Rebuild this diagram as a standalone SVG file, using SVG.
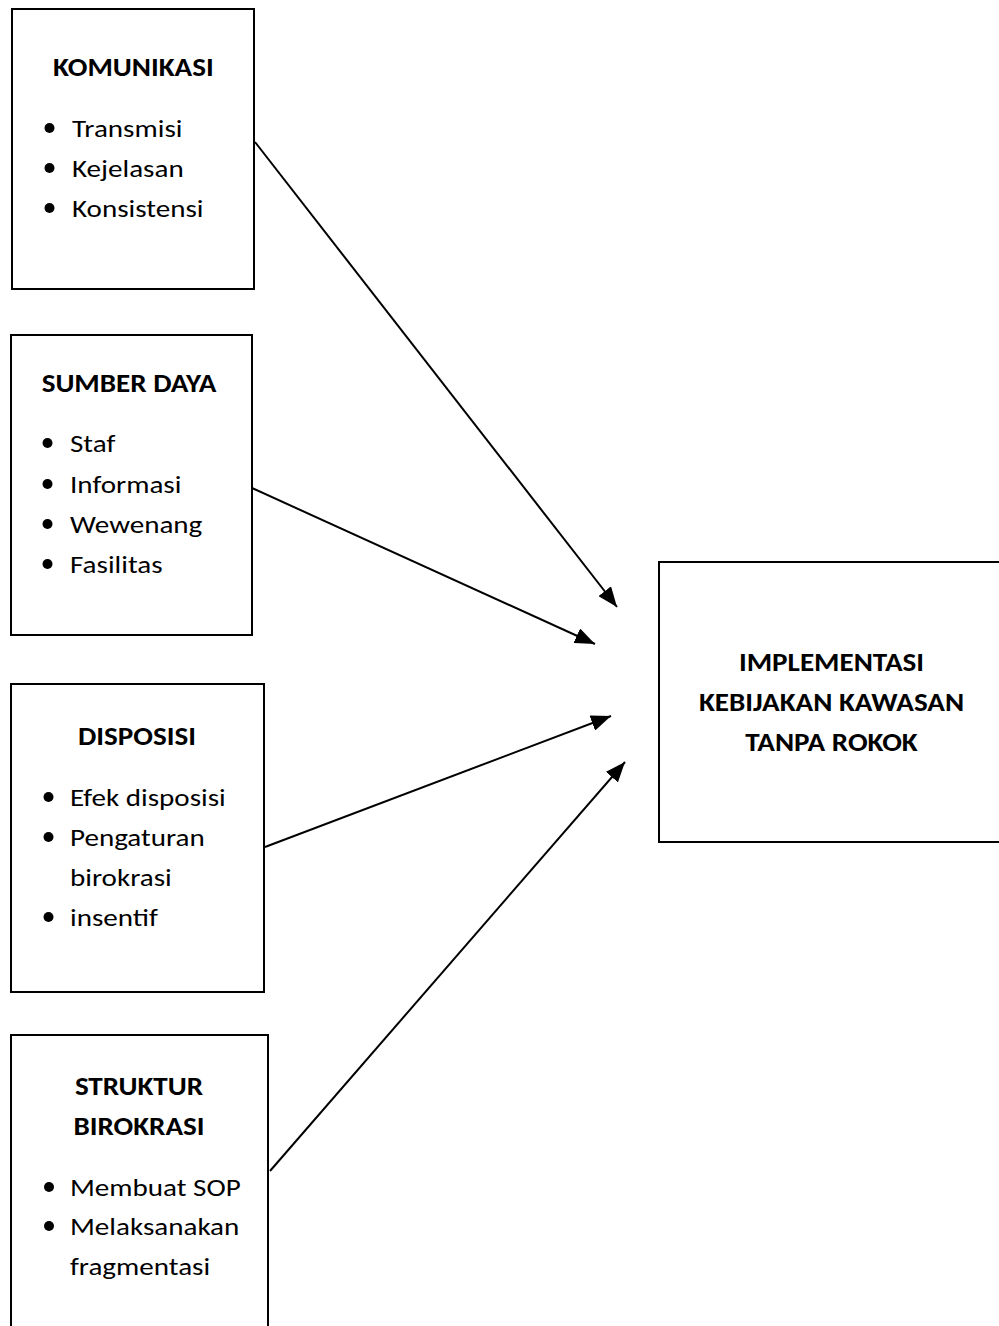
<svg xmlns="http://www.w3.org/2000/svg" width="999" height="1326" viewBox="0 0 999 1326">
<defs>
<style>
.box{fill:#fff;stroke:#000;stroke-width:2}
.t{font-family:Carlito,Lato,"Liberation Sans",sans-serif;font-size:25.3px;fill:#000}
.b{font-weight:bold;text-anchor:middle}
.c{stroke:#000;stroke-width:2;fill:none;marker-end:url(#ah)}
</style>
<marker id="ah" viewBox="0 0 20 16" refX="20" refY="8" markerWidth="20" markerHeight="16" markerUnits="userSpaceOnUse" orient="auto">
<path d="M0,0 L20,8 L0,16 z" fill="#000"/>
</marker>
</defs>
<rect width="999" height="1326" fill="#fff"/>
<g id="komunikasi">
<rect class="box" x="12" y="9" width="242" height="280"/>
<text class="t b" transform="translate(133.4,76) scale(1.15,1)">KOMUNIKASI</text>
<circle cx="49.5" cy="128" r="5"/><text class="t" transform="translate(72,137) scale(1.15,1)">Transmisi</text>
<circle cx="49.5" cy="168" r="5"/><text class="t" transform="translate(72,177) scale(1.15,1)">Kejelasan</text>
<circle cx="49.5" cy="208" r="5"/><text class="t" transform="translate(72,217) scale(1.15,1)">Konsistensi</text>
</g>
<g id="sumberdaya">
<rect class="box" x="11" y="335" width="241" height="300"/>
<text class="t b" transform="translate(129,391.5) scale(1.15,1)">SUMBER DAYA</text>
<circle cx="47.5" cy="443" r="5"/><text class="t" transform="translate(70,452) scale(1.15,1)">Staf</text>
<circle cx="47.5" cy="484" r="5"/><text class="t" transform="translate(70,493) scale(1.15,1)">Informasi</text>
<circle cx="47.5" cy="524" r="5"/><text class="t" transform="translate(70,533) scale(1.15,1)">Wewenang</text>
<circle cx="47.5" cy="564" r="5"/><text class="t" transform="translate(70,573) scale(1.15,1)">Fasilitas</text>
</g>
<g id="disposisi">
<rect class="box" x="11" y="684" width="253" height="308"/>
<text class="t b" transform="translate(137,745) scale(1.15,1)">DISPOSISI</text>
<circle cx="48.5" cy="797" r="5"/><text class="t" transform="translate(70,806) scale(1.15,1)">Efek disposisi</text>
<circle cx="48.5" cy="837" r="5"/><text class="t" transform="translate(70,846) scale(1.15,1)">Pengaturan</text>
<text class="t" transform="translate(70,886) scale(1.15,1)">birokrasi</text>
<circle cx="48.5" cy="917" r="5"/><text class="t" transform="translate(70,926) scale(1.15,1)">insentif</text>
</g>
<g id="struktur">
<rect class="box" x="11" y="1035" width="257" height="300"/>
<text class="t b" transform="translate(139,1095) scale(1.15,1)">STRUKTUR</text>
<text class="t b" transform="translate(139,1135) scale(1.15,1)">BIROKRASI</text>
<circle cx="49" cy="1187" r="5"/><text class="t" transform="translate(70,1195.5) scale(1.15,1)">Membuat SOP</text>
<circle cx="49" cy="1226" r="5"/><text class="t" transform="translate(70,1235) scale(1.15,1)">Melaksanakan</text>
<text class="t" transform="translate(70,1275) scale(1.15,1)">fragmentasi</text>
</g>
<g id="implementasi">
<rect class="box" x="659" y="562" width="350" height="280"/>
<text class="t b" transform="translate(831.5,671) scale(1.15,1)">IMPLEMENTASI</text>
<text class="t b" transform="translate(831.5,711) scale(1.15,1)">KEBIJAKAN KAWASAN</text>
<text class="t b" transform="translate(831.5,751) scale(1.15,1)">TANPA ROKOK</text>
</g>
<g id="connectors">
<line class="c" x1="255" y1="142" x2="617" y2="607"/>
<line class="c" x1="252" y1="488" x2="595" y2="644"/>
<line class="c" x1="265" y1="847" x2="611" y2="716"/>
<line class="c" x1="270" y1="1171" x2="625" y2="762"/>
</g>
</svg>
